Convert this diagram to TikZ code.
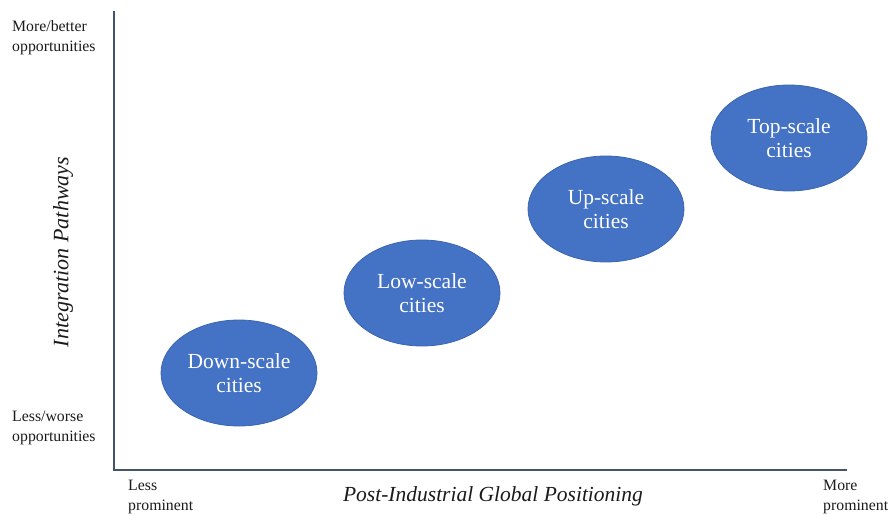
\documentclass[tikz,border=0pt]{standalone}
\usepackage{fontspec}
\setmainfont{Liberation Serif}
\usetikzlibrary{shapes.geometric}
\definecolor{axiscol}{HTML}{44546A}
\definecolor{cityfill}{HTML}{4472C4}
\definecolor{cityline}{HTML}{3B65B0}
\definecolor{labcol}{HTML}{1A1A1A}
\tikzset{
  city/.style={ellipse, fill=cityfill, draw=cityline, line width=0.8pt,
    minimum width=156pt, minimum height=106pt, inner sep=0pt,
    align=center, text=white, font=\fontsize{21.5}{24}\selectfont},
  axisline/.style={draw=axiscol, line width=2.6pt, line join=miter},
  endlab/.style={inner sep=0pt, align=left, text=labcol,
    font=\fontsize{15.8}{20}\selectfont},
  axislab/.style={inner sep=0pt, text=labcol, font=\itshape}
}
\begin{document}
\begin{tikzpicture}[x=1pt, y=-1pt]
\useasboundingbox (0,0) rectangle (891,514);
% axes
\coordinate (ytop) at (114,11);
\coordinate (origin) at (114,470);
\coordinate (xend) at (847,470);
\draw[axisline] (ytop) -- (origin) -- (xend);
% cities
\node[city] (down) at (239,373) {Down-scale\\cities};
\node[city] (low) at (422,293) {Low-scale\\cities};
\node[city] (up) at (606,209) {Up-scale\\cities};
\node[city] (top) at (789,138) {Top-scale\\cities};
% end labels
\node[endlab, anchor=north west] (morebetter) at (12,20) {More/better\\opportunities};
\node[endlab, anchor=north west] (lessworse) at (12,411) {Less/worse\\opportunities};
\node[endlab, anchor=north west] (lessprom) at (128,480) {Less\\prominent};
\node[endlab, anchor=north west] (moreprom) at (823,480) {More\\prominent};
% axis titles
\node[axislab, rotate=90, font=\itshape\fontsize{22}{26}\selectfont] (ytitle) at (63,252) {Integration Pathways};
\node[axislab, font=\itshape\fontsize{21.5}{24}\selectfont] (xtitle) at (493,496) {Post-Industrial Global Positioning};
\end{tikzpicture}
\end{document}
